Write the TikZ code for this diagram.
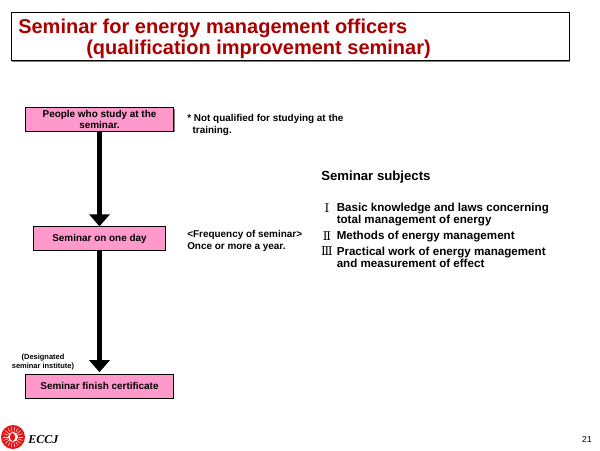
\documentclass[tikz,border=0pt]{standalone}
\usepackage{fontspec}
\setmainfont{Liberation Sans}
\newfontfamily\romanfont{DejaVu Serif}
\newfontfamily\logofont{Liberation Serif}
\usetikzlibrary{arrows.meta,shadows}
\definecolor{titlered}{RGB}{170,0,0}
\definecolor{boxpink}{RGB}{255,153,204}
\definecolor{logored}{RGB}{230,20,20}
\tikzset{
  pinkbox/.style={draw=black,line width=0.7pt,fill=boxpink,inner sep=0pt,align=center,
    font=\bfseries\fontsize{7.45}{8.8}\selectfont,
    copy shadow={shadow xshift=0.6pt,shadow yshift=-0.6pt,fill=gray,draw=none}},
  flowarrow/.style={line width=3.6pt,-{Triangle[width=15pt,length=9pt]}},
  note/.style={inner sep=0pt,anchor=north west,align=left,font=\bfseries\fontsize{7.45}{9.3}\selectfont},
  subject/.style={inner sep=0pt,anchor=north west,align=left,font=\bfseries\fontsize{8.7}{9.2}\selectfont},
  numeral/.style={inner sep=0pt,anchor=north,font=\romanfont\fontsize{9}{10.5}\selectfont}
}
\begin{document}
\begin{tikzpicture}[x=0.75pt,y=-0.75pt]
\useasboundingbox (0,0) rectangle (600,450);
\fill[white] (0,0) rectangle (600,450);
% title
\node[draw=black,line width=0.6pt,fill=white,minimum width=418.5pt,minimum height=36.5pt,inner sep=0pt,
  copy shadow={shadow xshift=0.6pt,shadow yshift=-0.6pt,fill=gray,draw=none}] (titlebox) at (290.5,36.5) {};
\node[inner sep=0pt,anchor=north west,text=titlered,align=left,
  font=\bfseries\fontsize{15}{15.9}\selectfont] (title) at (18,19)
  {Seminar for energy management officers\\\hspace{51pt}(qualification improvement seminar)};
% flow boxes
\node[pinkbox,minimum width=111.5pt,minimum height=17.5pt] (people) at (99.5,119.5) {People who study at the\\seminar.};
\node[pinkbox,minimum width=99pt,minimum height=17.5pt] (day) at (99.5,238.5) {Seminar on one day};
\node[pinkbox,minimum width=111pt,minimum height=18pt] (cert) at (99.5,386) {Seminar finish certificate};
\draw[flowarrow] (people.south) -- (day.north);
\draw[flowarrow] (day.south) -- ([yshift=1pt]cert.north);
% notes
\node[note] (n1) at (187,114) {* Not qualified for studying at the\\\hspace{4pt}training.};
\node[note] (n2) at (187,230) {<Frequency of seminar>\\Once or more a year.};
\node[inner sep=0pt,align=center,font=\bfseries\fontsize{5.6}{6.2}\selectfont] (inst) at (43,362) {(Designated\\seminar institute)};
% subjects
\node[inner sep=0pt,anchor=north west,font=\bfseries\fontsize{9.9}{11}\selectfont] (subj) at (321,170.5) {Seminar subjects};
\node[numeral] (r1) at (327,203) {Ⅰ};
\node[subject] (s1) at (336.5,203) {Basic knowledge and laws concerning\\total management of energy};
\node[numeral] (r2) at (327,231) {Ⅱ};
\node[subject] (s2) at (336.5,231) {Methods of energy management};
\node[numeral] (r3) at (327,246.5) {Ⅲ};
\node[subject] (s3) at (336.5,246.5) {Practical work of energy management\\and measurement of effect};
% logo
\fill[logored] (13,437) circle (12);
\foreach \a in {0,20,...,340}{\draw[white,line width=0.35pt] (13,437)+(\a:5.5) -- +(\a:10);}
\fill[white] (13,437) circle (5);
\fill[logored] (12.5,437) ellipse (2.6 and 4);
\node[inner sep=0pt,anchor=west,font=\logofont\itshape\bfseries\fontsize{9}{11}\selectfont] (eccj) at (28,440) {ECCJ};
% page number
\node[inner sep=0pt,font=\fontsize{6.5}{8}\selectfont] (page) at (587,439) {21};
\end{tikzpicture}
\end{document}
